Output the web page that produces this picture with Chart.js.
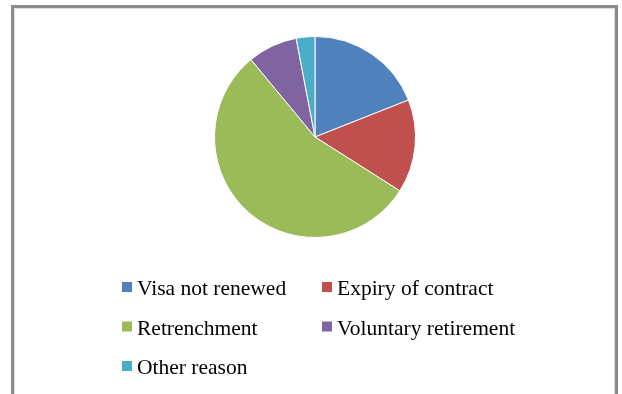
<!DOCTYPE html>
<html>
<head>
<meta charset="utf-8">
<script src="https://cdn.jsdelivr.net/npm/chart.js@4"></script>
<style>
  html, body { margin: 0; padding: 0; background: #fff; }
  #wrap { position: relative; width: 622px; height: 394px; }
</style>
</head>
<body>
<div id="wrap"><canvas id="reasonChart" width="622" height="394"></canvas></div>
<script>
const reasons = ['Visa not renewed', 'Expiry of contract', 'Retrenchment', 'Voluntary retirement', 'Other reason'];
const shares = [19, 15, 55, 8, 3];
const sliceColors = ['#4F81BD', '#C0504D', '#9BBB59', '#8064A2', '#4BACC6'];

// grey frame round the whole chart, open at the bottom
const framePlugin = {
    id: 'frame',
    beforeDraw(chart) {
        const c = chart.ctx;
        c.save();
        c.fillStyle = '#fff';
        c.fillRect(0, 0, chart.width, chart.height);
        c.strokeStyle = '#8c8c8c';
        c.lineWidth = 3;
        c.beginPath();
        c.moveTo(12.5, chart.height + 2);
        c.lineTo(12.5, 6.5);
        c.lineTo(616.5, 6.5);
        c.lineTo(616.5, chart.height + 2);
        c.stroke();
        c.strokeStyle = '#dcdcdc';
        c.lineWidth = 1;
        c.beginPath();
        c.moveTo(14.5, chart.height + 2);
        c.lineTo(14.5, 8.5);
        c.lineTo(614.5, 8.5);
        c.lineTo(614.5, chart.height + 2);
        c.stroke();
        c.restore();
    }
};

// two-column legend under the pie
const gridLegend = {
    id: 'gridLegend',
    afterDraw(chart) {
        const c = chart.ctx;
        const ds = chart.data.datasets[0];
        const cols = [122, 322];
        const baseY = 295, rowGap = 39.5;
        c.save();
        c.font = '21.5px "Liberation Serif", "Times New Roman", serif';
        c.textBaseline = 'alphabetic';
        chart.data.labels.forEach((label, i) => {
            const x = cols[i % 2];
            const y = baseY + Math.floor(i / 2) * rowGap;
            c.fillStyle = ds.backgroundColor[i];
            c.fillRect(x, y - 13, 10, 10);
            c.fillStyle = '#000';
            c.fillText(label, x + 15, y);
        });
        c.restore();
    }
};

new Chart(document.getElementById('reasonChart'), {
    type: 'pie',
    data: {
        labels: reasons,
        datasets: [{
            data: shares,
            backgroundColor: sliceColors,
            borderColor: '#fff',
            borderWidth: 1
        }]
    },
    options: {
        responsive: false,
        animation: false,
        layout: {
            padding: { top: 36, bottom: 156, left: 214, right: 206 }
        },
        plugins: {
            legend: { display: false },
            tooltip: { enabled: false }
        }
    },
    plugins: [framePlugin, gridLegend]
});
</script>
</body>
</html>
